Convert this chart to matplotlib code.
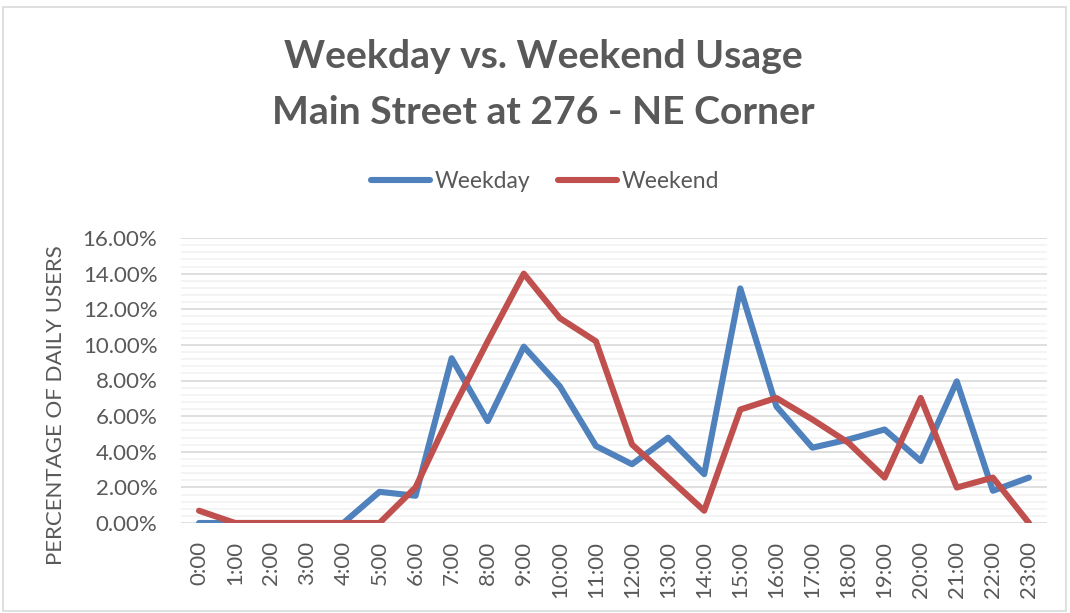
import matplotlib.pyplot as plt
from matplotlib.ticker import MultipleLocator, FuncFormatter
from matplotlib.patches import Rectangle

hours = ['%d:00' % h for h in range(24)]
weekday = [0.0, 0.0, 0.0, 0.0, 0.0, 1.75, 1.53, 9.25, 5.72, 9.9, 7.67, 4.32,
           3.30, 4.79, 2.74, 13.17, 6.55, 4.23, 4.69, 5.25, 3.48, 7.95, 1.81, 2.55]
weekend = [0.69, 0.0, 0.0, 0.0, 0.0, 0.0, 2.0, 6.27, 10.2, 14.0, 11.5, 10.2,
           4.41, 2.55, 0.69, 6.37, 7.02, 5.81, 4.5, 2.55, 7.02, 1.99, 2.55, 0.0]

txt = '#595959'
plt.rcParams['font.family'] = ['Lato', 'DejaVu Sans']

W, H = 1070, 613
fig = plt.figure(figsize=(W / 100, H / 100), dpi=100)
ax = fig.add_axes([181/W, 1 - 523/H, 866/W, 285/H])

x = list(range(len(hours)))
ax.plot(x, weekday, color='#4F81BD', linewidth=4.4, label='Weekday',
        solid_joinstyle='round', solid_capstyle='round', zorder=3)
ax.plot(x, weekend, color='#C0504D', linewidth=4.4, label='Weekend',
        solid_joinstyle='round', solid_capstyle='round', zorder=3)

ax.set_xlim(-0.5, 23.5)
ax.set_ylim(0, 16)
ax.yaxis.set_major_locator(MultipleLocator(2))
ax.yaxis.set_minor_locator(MultipleLocator(0.4))
ax.yaxis.set_major_formatter(FuncFormatter(lambda v, p: '%.2f%%' % v))
ax.grid(True, which='major', axis='y', color='#D9D9D9', linewidth=1.2, zorder=0)
ax.grid(True, which='minor', axis='y', color='#F2F2F2', linewidth=1.2, zorder=0)
ax.set_xticks(x)
ax.set_xticklabels(hours, rotation=90)
ax.tick_params(axis='both', which='both', length=0, labelcolor=txt, labelsize=16)
ax.tick_params(axis='x', pad=13)
ax.tick_params(axis='y', pad=17)
for s in ax.spines.values():
    s.set_visible(False)

fig.text(56/W, 1 - 405/H, 'PERCENTAGE OF DAILY USERS', rotation=90, ha='center', va='center',
         color=txt, fontsize=16)

# two-line title
fig.text(0.508, 1 - 57/H, 'Weekday vs. Weekend Usage', ha='center', va='center',
         fontsize=28.2, fontweight='bold', color=txt)
fig.text(0.508, 1 - 112/H, 'Main Street at 276 - NE Corner', ha='center', va='center',
         fontsize=28.2, fontweight='bold', color=txt)

fig.legend(loc='center', bbox_to_anchor=(545/W, 1 - 182/H), ncol=2, frameon=False,
           fontsize=16.5, labelcolor=txt, handlelength=2.6, handletextpad=0.2,
           columnspacing=1.2)

fig.patches.append(Rectangle((3/W, 2/H), 1063/W, 604/H, transform=fig.transFigure,
                             fill=False, edgecolor='#D9D9D9', linewidth=1.2))

fig.savefig('out.png', dpi=100)
